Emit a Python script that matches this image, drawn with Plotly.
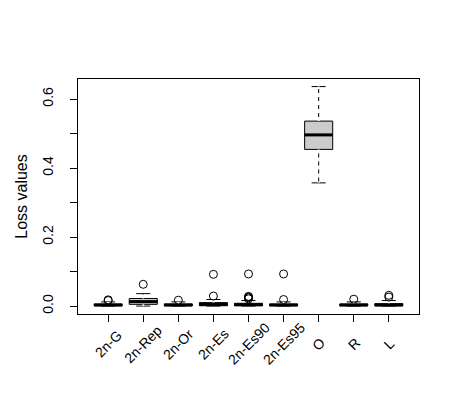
import plotly.graph_objects as go

LABELS = ["2n-G", "2n-Rep", "2n-Or", "2n-Es", "2n-Es90", "2n-Es95", "O", "R", "L"]
POSITIONS = [1, 2, 3, 4, 5, 6, 7, 8, 9]

Q1 = [0.001, 0.005, 0.001, 0.001, 0.001, 0.001, 0.454, 0.001, 0.001]
MEDIANS = [0.003, 0.013, 0.003, 0.005, 0.004, 0.003, 0.496, 0.003, 0.003]
Q3 = [0.006, 0.022, 0.006, 0.010, 0.008, 0.006, 0.536, 0.006, 0.007]
LOWER = [0.0, 0.0, 0.0, 0.0, 0.0, 0.0, 0.357, 0.0, 0.0]
UPPER = [0.012, 0.036, 0.012, 0.019, 0.016, 0.012, 0.636, 0.012, 0.016]

OUT_POS = [1, 1, 2, 3, 4, 4, 5, 5, 5, 5, 5, 6, 6, 8, 9, 9]
OUT_VALUES = [0.016, 0.018, 0.063, 0.017, 0.029, 0.092,
              0.021, 0.024, 0.026, 0.028, 0.093, 0.019, 0.093,
              0.020, 0.026, 0.031]

Y_TICKS = [0.0, 0.1, 0.2, 0.3, 0.4, 0.5, 0.6]
Y_TICKTEXT = ["0.0", "", "0.2", "", "0.4", "", "0.6"]

BOX_W = 0.8
FONT = "Liberation Sans, Arial, sans-serif"

fig = go.Figure()

fig.add_trace(
    go.Box(
        x=POSITIONS,
        q1=Q1,
        median=MEDIANS,
        q3=Q3,
        lowerfence=LOWER,
        upperfence=UPPER,
        width=BOX_W,
        whiskerwidth=0.5,
        fillcolor="#CCCCCC",
        line=dict(color="black", width=1),
        boxpoints=False,
        hoverinfo="skip",
        showlegend=False,
    )
)

# dashed whiskers: white dashes laid over the solid plotly whiskers
wx, wy = [], []
for p, a, b, c, d in zip(POSITIONS, LOWER, Q1, Q3, UPPER):
    wx += [p, p, None, p, p, None]
    wy += [c, d, None, b, a, None]
fig.add_trace(
    go.Scatter(
        x=wx, y=wy, mode="lines",
        line=dict(color="white", width=2, dash="4px,4px"),
        hoverinfo="skip", showlegend=False,
    )
)

# thick median bars like R
mx, my = [], []
for p, m in zip(POSITIONS, MEDIANS):
    mx += [p - BOX_W / 2, p + BOX_W / 2, None]
    my += [m, m, None]
fig.add_trace(
    go.Scatter(
        x=mx, y=my, mode="lines",
        line=dict(color="black", width=3),
        hoverinfo="skip", showlegend=False,
    )
)

fig.add_trace(
    go.Scatter(
        x=OUT_POS, y=OUT_VALUES, mode="markers",
        marker=dict(symbol="circle-open", size=8, color="black", line=dict(width=1)),
        hoverinfo="skip", showlegend=False,
    )
)

# rotated category labels, centred under each tick like R's text(srt=45)
for p, lab in zip(POSITIONS, LABELS):
    fig.add_annotation(
        x=p, y=0, xref="x", yref="paper",
        text=lab, textangle=-45, showarrow=False,
        xanchor="center", yanchor="middle", yshift=-30,
        font=dict(family=FONT, size=14, color="black"),
    )

# page body adds 8px, so margins are offset by that
fig.update_layout(
    width=460,
    height=414,
    margin=dict(l=70, r=49, t=71, b=108),
    plot_bgcolor="white",
    paper_bgcolor="white",
    font=dict(family=FONT, size=14, color="black"),
    showlegend=False,
)
fig.update_xaxes(
    range=[0.14, 9.86],
    tickmode="array",
    tickvals=POSITIONS,
    showticklabels=False,
    ticks="outside",
    ticklen=7,
    tickcolor="black",
    showline=True,
    linecolor="black",
    linewidth=1,
    mirror=True,
    showgrid=False,
    zeroline=False,
)
fig.update_yaxes(
    range=[-0.023, 0.658],
    tickmode="array",
    tickvals=Y_TICKS,
    ticktext=Y_TICKTEXT,
    tickangle=-90,
    ticks="outside",
    ticklen=7,
    tickcolor="black",
    ticklabelstandoff=11,
    showline=True,
    linecolor="black",
    linewidth=1,
    mirror=True,
    showgrid=False,
    zeroline=False,
    tickfont=dict(size=14),
    title=dict(text="Loss values", font=dict(size=16), standoff=8),
)

fig.write_html("out.html")
